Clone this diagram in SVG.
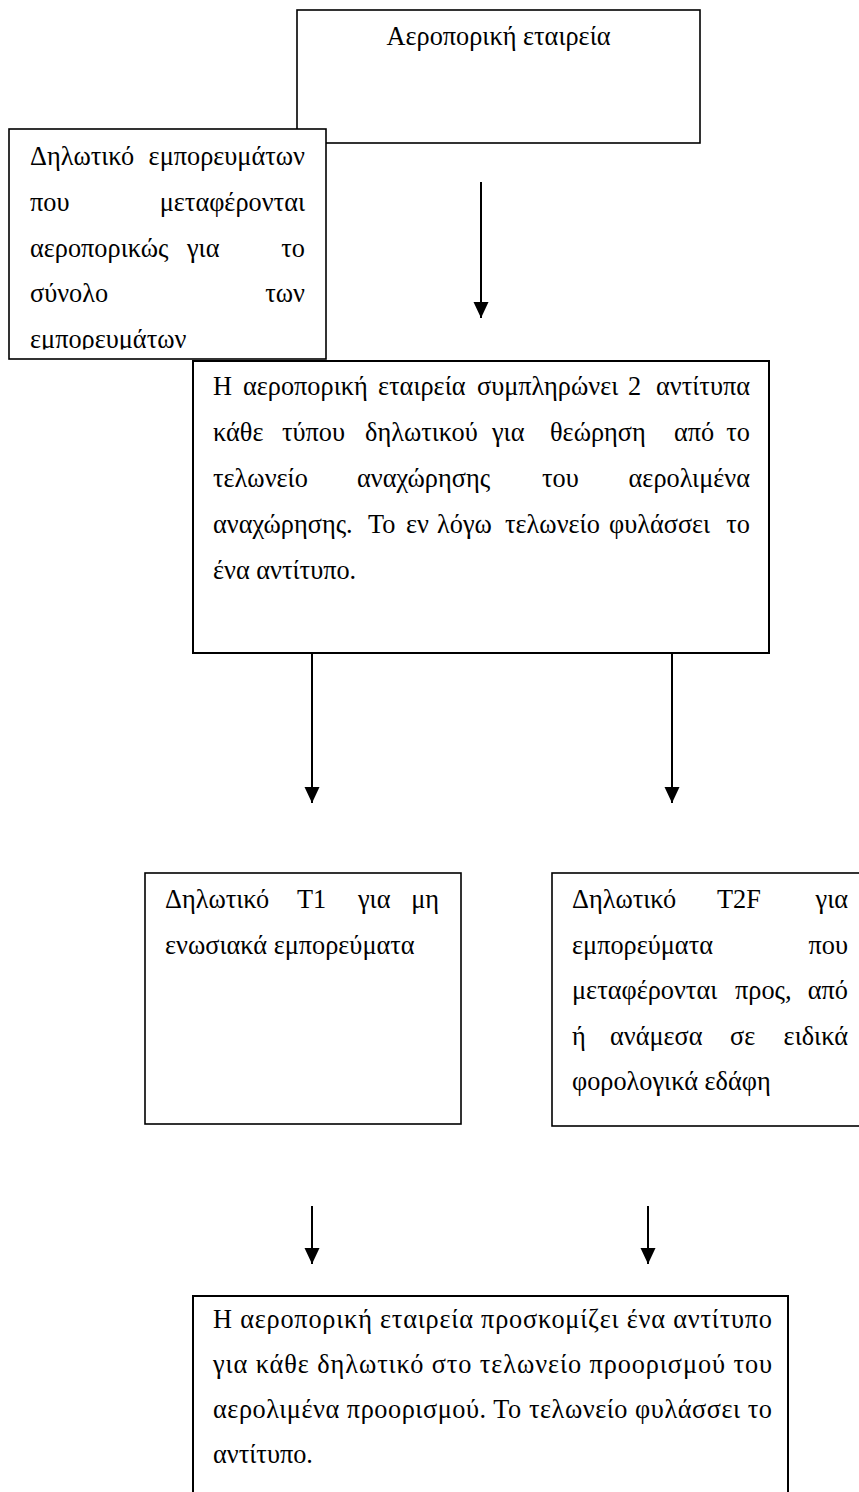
<svg xmlns="http://www.w3.org/2000/svg" width="859" height="1492" viewBox="0 0 859 1492">
<style>
.box{fill:#fff;stroke:#000;stroke-width:1.6}
.box2{fill:#fff;stroke:#000;stroke-width:2}
.t{font-family:"Liberation Serif","Times New Roman","DejaVu Serif",serif;font-size:26.3px;fill:#000}
.e{text-anchor:end}
#connectors line{stroke:#000;stroke-width:2;marker-end:url(#ah)}
</style>
<defs>
<marker id="ah" markerUnits="userSpaceOnUse" markerWidth="16" markerHeight="16" refX="16" refY="7.5" orient="auto">
<path d="M0,0 L16,7.5 L0,15 z" fill="#000"/>
</marker>
<clipPath id="clipManifest"><rect x="9" y="129" width="317" height="220.5"/></clipPath>
</defs>
<rect width="859" height="1492" fill="#fff"/>

<g id="airline">
<rect class="box" x="297" y="10" width="403" height="133"/>
<text class="t" x="498.5" y="45" text-anchor="middle">Αεροπορική εταιρεία</text>
</g>

<g id="manifest">
<rect class="box" x="9" y="129" width="317" height="230"/>
<g clip-path="url(#clipManifest)">
<text class="t" y="165"><tspan x="30">Δηλωτικό</tspan><tspan class="e" x="305">εμπορευμάτων</tspan></text>
<text class="t" y="211"><tspan x="30">που</tspan><tspan class="e" x="305">μεταφέρονται</tspan></text>
<text class="t" y="257"><tspan x="30">αεροπορικώς</tspan><tspan x="187">για</tspan><tspan class="e" x="305">το</tspan></text>
<text class="t" y="302"><tspan x="30">σύνολο</tspan><tspan class="e" x="305">των</tspan></text>
<text class="t" y="348" x="30">εμπορευμάτων</text>
</g>
</g>

<g id="declaration">
<rect class="box2" x="193" y="361" width="576" height="292"/>
<text class="t" y="395"><tspan x="213">Η</tspan><tspan x="243">αεροπορική</tspan><tspan x="378">εταιρεία</tspan><tspan x="477">συμπληρώνει</tspan><tspan x="628">2</tspan><tspan class="e" x="750">αντίτυπα</tspan></text>
<text class="t" y="441"><tspan x="213">κάθε</tspan><tspan x="282">τύπου</tspan><tspan x="365">δηλωτικού</tspan><tspan x="492">για</tspan><tspan x="550">θεώρηση</tspan><tspan x="674">από</tspan><tspan class="e" x="750">το</tspan></text>
<text class="t" y="487"><tspan x="213">τελωνείο</tspan><tspan x="357">αναχώρησης</tspan><tspan x="542">του</tspan><tspan class="e" x="750">αερολιμένα</tspan></text>
<text class="t" y="533"><tspan x="213">αναχώρησης.</tspan><tspan x="368">Το</tspan><tspan x="406">εν</tspan><tspan x="437">λόγω</tspan><tspan x="505">τελωνείο</tspan><tspan x="609">φυλάσσει</tspan><tspan class="e" x="750">το</tspan></text>
<text class="t" y="579" x="213">ένα αντίτυπο.</text>
</g>

<g id="t1">
<rect class="box" x="145" y="873" width="316" height="251"/>
<text class="t" y="908"><tspan x="165">Δηλωτικό</tspan><tspan x="297">T1</tspan><tspan x="358">για</tspan><tspan class="e" x="439">μη</tspan></text>
<text class="t" y="953.5" x="165">ενωσιακά εμπορεύματα</text>
</g>

<g id="t2f">
<rect class="box" x="552" y="873" width="320" height="253"/>
<text class="t" y="908"><tspan x="572">Δηλωτικό</tspan><tspan x="717">T2F</tspan><tspan class="e" x="848">για</tspan></text>
<text class="t" y="953.5"><tspan x="572">εμπορεύματα</tspan><tspan class="e" x="848">που</tspan></text>
<text class="t" y="999"><tspan x="572">μεταφέρονται</tspan><tspan x="735">προς,</tspan><tspan class="e" x="848">από</tspan></text>
<text class="t" y="1044.5"><tspan x="572">ή</tspan><tspan x="610">ανάμεσα</tspan><tspan x="730">σε</tspan><tspan class="e" x="848">ειδικά</tspan></text>
<text class="t" y="1090" x="572">φορολογικά εδάφη</text>
</g>

<g id="destination">
<rect class="box2" x="193" y="1296" width="595" height="220"/>
<text class="t" x="213" y="1328" textLength="559" lengthAdjust="spacing">Η αεροπορική εταιρεία προσκομίζει ένα αντίτυπο</text>
<text class="t" x="213" y="1373" textLength="559" lengthAdjust="spacing">για κάθε δηλωτικό στο τελωνείο προορισμού του</text>
<text class="t" x="213" y="1418" textLength="559" lengthAdjust="spacing">αερολιμένα προορισμού. Το τελωνείο φυλάσσει το</text>
<text class="t" x="213" y="1463">αντίτυπο.</text>
</g>

<g id="connectors">
<line x1="481" y1="182" x2="481" y2="318"/>
<line x1="312" y1="653" x2="312" y2="803"/>
<line x1="672" y1="653" x2="672" y2="803"/>
<line x1="312" y1="1206" x2="312" y2="1264"/>
<line x1="648" y1="1206" x2="648" y2="1264"/>
</g>
</svg>
